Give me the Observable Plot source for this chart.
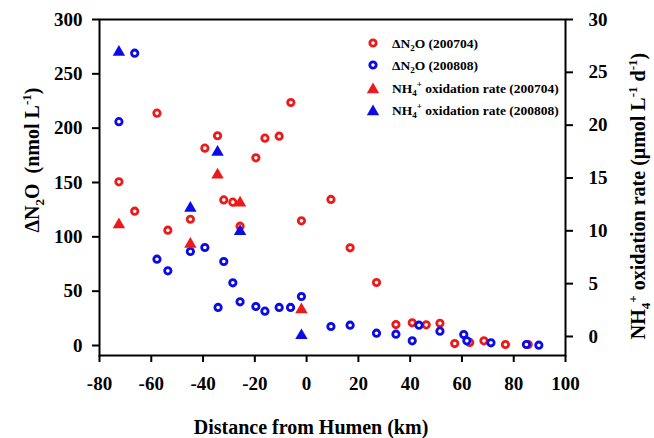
<!DOCTYPE html>
<html>
<head>
<meta charset="utf-8">
<script src="https://cdn.jsdelivr.net/npm/d3@7"></script>
<script src="https://cdn.jsdelivr.net/npm/@observablehq/plot@0.6"></script>
<style>
  html, body { margin: 0; padding: 0; background: #fff; }
  #chart svg { display: block; }
</style>
</head>
<body>
<div id="chart"></div>
<script>
// ---- Data ----
const distRedN2O = [-72.5,-66.4,-57.8,-53.6,-44.9,-39.3,-34.4,-32,-28.5,-25.7,-19.6,-16.1,-10.6,-6.1,-2,9.4,16.8,27,34.5,40.8,46.2,51.5,57.2,63,68.5,76.8,85.6];
const n2oRed = [150.6,123.6,213.8,106.1,116.2,181.6,193,134,131.9,109.8,172.7,190.8,192.6,223.6,114.7,134.4,89.9,58,19.3,20.9,19,20.5,1.8,2.8,4.3,0.9,0.9];

const distBlueN2O = [-72.5,-66.4,-57.8,-53.6,-44.9,-39.3,-34.2,-32,-28.5,-25.7,-19.6,-16.1,-10.6,-6.2,-2,9.4,16.8,27,34.5,40.8,43.4,51.5,60.7,61.9,71.2,84.9,89.7];
const n2oBlue = [206,269,79.4,68.7,86.5,90.2,35,77.3,57.7,40.2,35.9,31.6,35,35,45.1,17.5,18.7,11.3,10.4,4.3,18.7,13.2,10.1,4.3,2.5,0.9,0.3];

const distOx = [-72.5,-44.9,-34.4,-25.7,-2];
const oxRed = [10.75,8.9,15.45,12.8,2.7];
const oxBlue = [27.06,12.3,17.6,10.1,0.25];

const xTicks = [-80,-60,-40,-20,0,20,40,60,80,100];
const yLeftTicks = [0,50,100,150,200,250,300];
const yRightTicks = [0,5,10,15,20,25,30];

const leftDomain = [-9.2, 300];
const rightDomain = [-1.8, 30];

const RED = "#ec1b1b";
const BLUE = "#0b0be8";

// map right-axis values into left-axis units (shared y scale)
const toLeft = r => leftDomain[0] + (r - rightDomain[0]) / (rightDomain[1] - rightDomain[0]) * (leftDomain[1] - leftDomain[0]);
const fromLeft = v => rightDomain[0] + (v - leftDomain[0]) / (leftDomain[1] - leftDomain[0]) * (rightDomain[1] - rightDomain[0]);

const redN2O = distRedN2O.map((d, i) => ({x: d, y: n2oRed[i]}));
const blueN2O = distBlueN2O.map((d, i) => ({x: d, y: n2oBlue[i]}));
const redOx = distOx.map((d, i) => ({x: d, y: toLeft(oxRed[i])}));
const blueOx = distOx.map((d, i) => ({x: d, y: toLeft(oxBlue[i])}));

const FONT = "'Liberation Serif', 'Times New Roman', Times, serif";

const plot = Plot.plot({
  width: 654,
  height: 438,
  marginLeft: 99,
  marginRight: 89,
  marginTop: 19,
  marginBottom: 83,
  style: {fontFamily: FONT, fontWeight: "bold", background: "#fff", color: "#000"},
  x: {domain: [-80, 100]},
  y: {domain: leftDomain},
  marks: [
    Plot.axisX({ticks: xTicks, tickSize: 7, tickPadding: 14, fontSize: 19, strokeWidth: 2, label: null, tickFormat: d => String(d)}),
    Plot.axisY({anchor: "left", ticks: yLeftTicks, tickSize: 7, tickPadding: 10, fontSize: 19, strokeWidth: 2, label: null, tickFormat: d => String(d)}),
    Plot.axisY({anchor: "right", ticks: yRightTicks.map(toLeft), tickSize: 7, tickPadding: 16, fontSize: 19, strokeWidth: 2, label: null, tickFormat: d => String(Math.round(fromLeft(d)))}),
    Plot.frame({stroke: "#000", strokeWidth: 2}),
    Plot.dot(redN2O, {x: "x", y: "y", r: 3.2, stroke: RED, strokeWidth: 2.8, fill: "#fff"}),
    Plot.dot(blueN2O, {x: "x", y: "y", r: 3.2, stroke: BLUE, strokeWidth: 2.8, fill: "#fff"}),
    Plot.dot(redOx, {x: "x", y: "y", symbol: "triangle", r: 4.6, fill: RED, stroke: "none", dy: 1.7}),
    Plot.dot(blueOx, {x: "x", y: "y", symbol: "triangle", r: 4.6, fill: BLUE, stroke: "none", dy: 1.7})
  ]
});

document.getElementById("chart").appendChild(plot);

// ---- titles and legend ----
const svg = d3.select(plot);

// x axis title
svg.append("text")
  .attr("x", 311).attr("y", 434)
  .attr("text-anchor", "middle")
  .attr("font-family", FONT).attr("font-weight", "bold").attr("font-size", 20)
  .text("Distance from Humen (km)");

// left y title
const lt = svg.append("text")
  .attr("transform", "translate(39,160) rotate(-90)")
  .attr("text-anchor", "middle")
  .attr("font-family", FONT).attr("font-weight", "bold").attr("font-size", 20);
lt.append("tspan").text("ΔN");
lt.append("tspan").attr("font-size", 13).attr("dy", 5).text("2");
lt.append("tspan").attr("dy", -5).text("O  (nmol L");
lt.append("tspan").attr("font-size", 13).attr("dy", -8).text("-1");
lt.append("tspan").attr("dy", 8).text(")");

// right y title
const rt = svg.append("text")
  .attr("transform", "translate(645,196) rotate(-90)")
  .attr("text-anchor", "middle")
  .attr("font-family", FONT).attr("font-weight", "bold").attr("font-size", 20);
rt.append("tspan").text("NH");
rt.append("tspan").attr("font-size", 13).attr("dy", 5).text("4");
rt.append("tspan").attr("font-size", 13).attr("dy", -13).text("+");
rt.append("tspan").attr("dy", 8).text(" oxidation rate (μmol L");
rt.append("tspan").attr("font-size", 13).attr("dy", -8).text("-1");
rt.append("tspan").attr("dy", 8).text(" d");
rt.append("tspan").attr("font-size", 13).attr("dy", -8).text("-1");
rt.append("tspan").attr("dy", 8).text(")");

// legend
const legendItems = [
  {type: "circle", color: RED, main: "ΔN", sub: "2", sup: null, rest: "O (200704)"},
  {type: "circle", color: BLUE, main: "ΔN", sub: "2", sup: null, rest: "O (200808)"},
  {type: "triangle", color: RED, main: "NH", sub: "4", sup: "+", rest: " oxidation rate (200704)"},
  {type: "triangle", color: BLUE, main: "NH", sub: "4", sup: "+", rest: " oxidation rate (200808)"}
];
const rowsY = [43, 65, 88, 110];
const lg = svg.append("g");
legendItems.forEach((it, i) => {
  const y = rowsY[i];
  if (it.type === "circle") {
    lg.append("circle").attr("cx", 373).attr("cy", y).attr("r", 3.2)
      .attr("fill", "#fff").attr("stroke", it.color).attr("stroke-width", 2.8);
  } else {
    lg.append("path").attr("transform", `translate(373,${y + 1.7})`)
      .attr("d", d3.symbol(d3.symbolTriangle, 4.6 * 4.6 * Math.PI)())
      .attr("fill", it.color);
  }
  const t = lg.append("text").attr("x", 392).attr("y", y + 4.5)
    .attr("text-anchor", "start")
    .attr("font-family", FONT).attr("font-weight", "bold").attr("font-size", 13.5);
  t.append("tspan").text(it.main);
  t.append("tspan").attr("font-size", 9).attr("dy", 3).text(it.sub);
  if (it.sup) {
    t.append("tspan").attr("font-size", 9).attr("dy", -9).text(it.sup);
    t.append("tspan").attr("dy", 6).text(it.rest);
  } else {
    t.append("tspan").attr("dy", -3).text(it.rest);
  }
});
</script>
</body>
</html>
